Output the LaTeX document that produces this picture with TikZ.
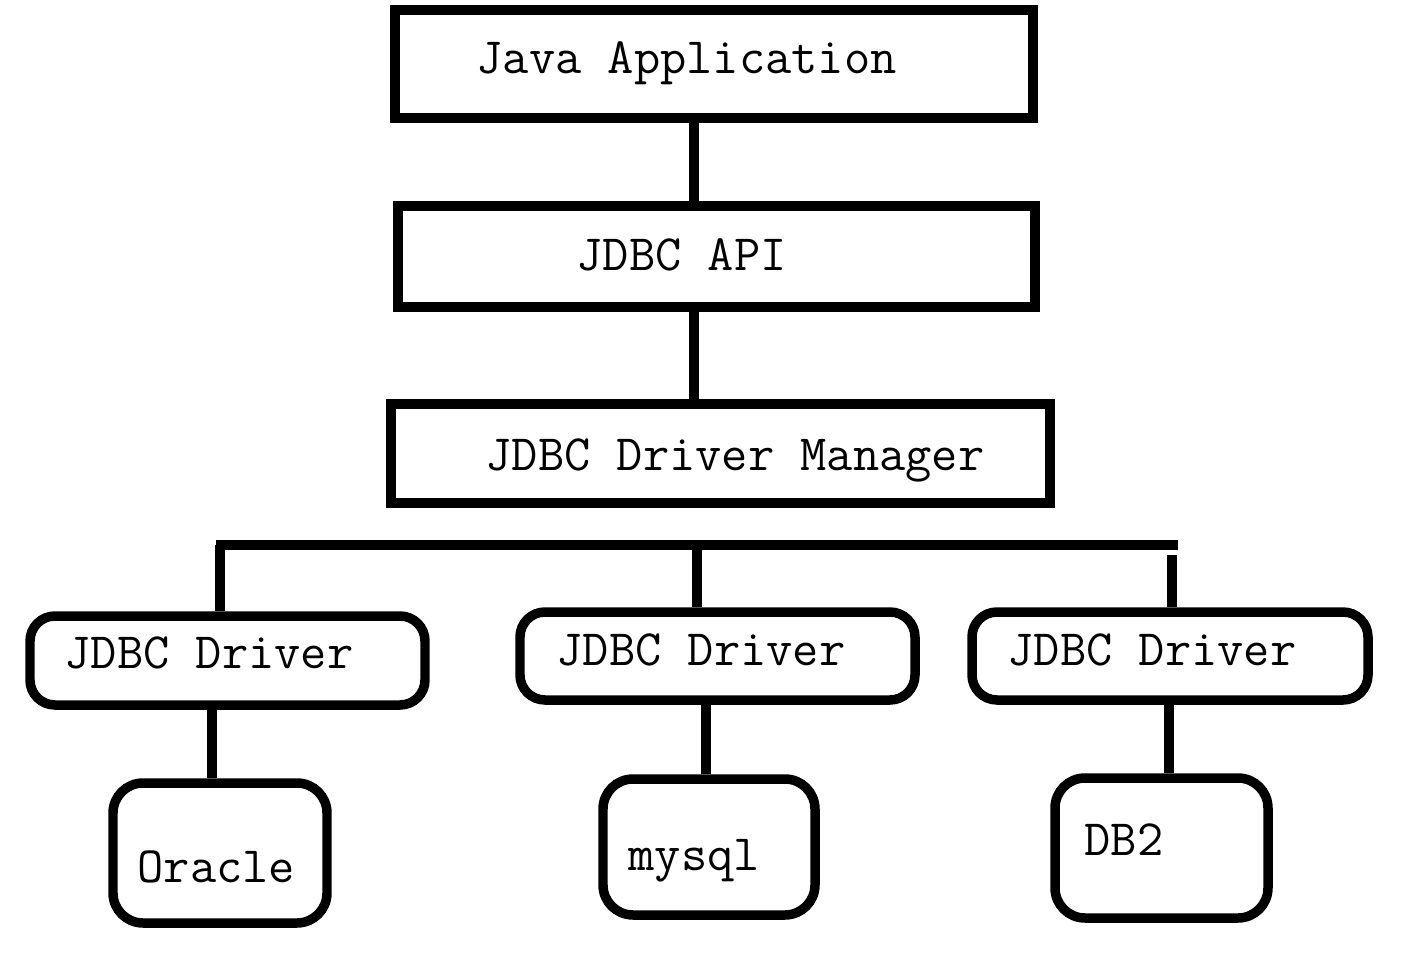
\documentclass[tikz,border=0pt]{standalone}
\usepackage{tikz}
\tikzset{
    layer/.style={draw, line width=2.7pt, inner sep=0pt},
    drv/.style={layer, rounded corners=2.5mm},
    dbase/.style={layer, rounded corners=3mm},
    link/.style={line width=2.7pt},
    txt/.style={anchor=base west, inner sep=0pt, font=\fontsize{14.5}{17}\selectfont\ttfamily},
}

\begin{document}
\begin{tikzpicture}
    \useasboundingbox (0,0) rectangle (14.08,-9.55);

    % upper layers
    \node (app) at (7.14,-0.64) [layer, minimum width=6.38cm, minimum height=1.08cm] {};
    \node (api) at (7.165,-2.565) [layer, minimum width=6.37cm, minimum height=1.01cm] {};
    \node (mgr) at (7.205,-4.535) [layer, minimum width=6.59cm, minimum height=0.99cm] {};
    \node (appT) at (4.76,-0.73) [txt] {Java Application};
    \node (apiT) at (5.76,-2.70) [txt] {JDBC API};
    \node (mgrT) at (4.85,-4.70) [txt] {JDBC Driver Manager};

    % drivers
    \node (drv1) at (2.275,-6.605) [drv, minimum width=3.95cm, minimum height=0.89cm] {};
    \node (drv2) at (7.175,-6.56) [drv, minimum width=3.95cm, minimum height=0.88cm] {};
    \node (drv3) at (11.70,-6.56) [drv, minimum width=3.96cm, minimum height=0.88cm] {};
    \node (drv1T) at (0.64,-6.68) [txt] {JDBC Driver};
    \node (drv2T) at (5.56,-6.65) [txt] {JDBC Driver};
    \node (drv3T) at (10.07,-6.65) [txt] {JDBC Driver};

    % databases
    \node (ora) at (2.20,-8.53) [dbase, minimum width=2.14cm, minimum height=1.40cm] {};
    \node (mys) at (7.09,-8.47) [dbase, minimum width=2.12cm, minimum height=1.36cm] {};
    \node (db2) at (11.615,-8.48) [dbase, minimum width=2.13cm, minimum height=1.40cm] {};
    \node (oraT) at (1.37,-8.82) [txt] {Oracle};
    \node (mysT) at (6.28,-8.70) [txt] {mysql};
    \node (db2T) at (10.84,-8.55) [txt] {DB2};

    % bus
    \coordinate (busL) at (2.16,-5.45);
    \coordinate (busR) at (11.78,-5.45);
    \coordinate (t1) at (2.20,-5.45);
    \coordinate (t2) at (6.97,-5.45);
    \coordinate (t3) at (11.72,-5.55);

    \draw [link] ([xshift=-2mm]app.south) -- ([xshift=-2mm]app.south |- api.north);
    \draw [link] ([xshift=-2.25mm]api.south) -- ([xshift=-2.25mm]api.south |- mgr.north);
    \draw [link] (busL) -- (busR);
    \draw [link] (t1) -- (t1 |- drv1.north);
    \draw [link] (t2) -- (t2 |- drv2.north);
    \draw [link] (t3) -- (t3 |- drv3.north);
    \draw [link] ([xshift=-1.55mm]drv1.south) -- ([xshift=-1.55mm]drv1.south |- ora.north);
    \draw [link] ([xshift=-1.15mm]drv2.south) -- ([xshift=-1.15mm]drv2.south |- mys.north);
    \draw [link] ([xshift=-0.1mm]drv3.south) -- ([xshift=-0.1mm]drv3.south |- db2.north);
\end{tikzpicture}
\end{document}
